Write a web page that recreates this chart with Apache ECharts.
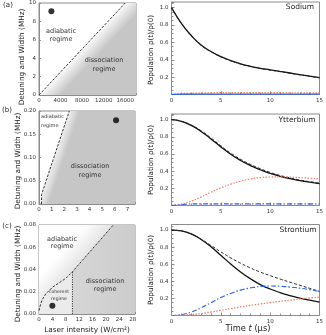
<!DOCTYPE html>
<html><head><meta charset="utf-8">
<script src="https://cdn.jsdelivr.net/npm/echarts@6/dist/echarts.min.js"></script>
<style>html,body{margin:0;padding:0;background:#fff}#c{width:326px;height:335px}</style>
</head><body><div id="c"></div>
<script>
// ---------- data ----------
const time = [0,1,2,3,4,5,6,7,8,9,10,11,12,13,14,15];

const sodiumSolid  = [1.0,0.82,0.68,0.57,0.495,0.437,0.391,0.354,0.325,0.302,0.284,0.2655,0.2475,0.2295,0.212,0.195];
const sodiumDashed = [1.0,0.818,0.677,0.567,0.492,0.434,0.388,0.351,0.322,0.299,0.281,0.263,0.245,0.227,0.21,0.193];
const sodiumRed    = [0.0,0.01,0.015,0.018,0.02,0.021,0.022,0.022,0.022,0.022,0.021,0.021,0.02,0.02,0.019,0.019];
const sodiumBlue   = [0.0,0.004,0.005,0.005,0.005,0.005,0.005,0.005,0.005,0.005,0.005,0.005,0.005,0.005,0.005,0.005];

const ytterSolid   = [1.0,0.98,0.932,0.862,0.775,0.682,0.596,0.524,0.465,0.416,0.374,0.34,0.312,0.29,0.271,0.255];
const ytterDashed  = [1.0,0.981,0.936,0.87,0.786,0.695,0.61,0.538,0.478,0.428,0.385,0.35,0.321,0.297,0.277,0.26];
const ytterRed     = [0.0,0.015,0.05,0.10,0.155,0.205,0.248,0.283,0.309,0.325,0.332,0.333,0.33,0.325,0.318,0.31];
const ytterBlue    = [0.0,0.01,0.018,0.018,0.018,0.018,0.018,0.018,0.018,0.018,0.018,0.018,0.018,0.018,0.018,0.018];

const stronSolid   = [1.0,0.99,0.955,0.89,0.805,0.705,0.603,0.51,0.43,0.362,0.31,0.268,0.233,0.204,0.179,0.157];
const stronDashed  = [1.0,0.99,0.955,0.893,0.82,0.745,0.675,0.612,0.556,0.508,0.466,0.427,0.39,0.354,0.318,0.282];
const stronBlue    = [0.0,0.01,0.04,0.09,0.15,0.21,0.258,0.297,0.323,0.34,0.345,0.342,0.333,0.32,0.302,0.28];
const stronRed     = [0.0,0.003,0.01,0.022,0.04,0.06,0.08,0.1,0.118,0.135,0.151,0.166,0.18,0.193,0.205,0.215];

// regime boundaries (data coordinates)
const boundaryA = [[0,0],[16000,10]];
const boundaryB = [[0.2,0],[0.2,0.02],[2.4,0.2]];
const boundaryC = [[0,0.003],[0.5,0.009],[1,0.013],[2,0.018],[3,0.021],[4,0.024],[5,0.026],[6,0.028],[7,0.030],[8,0.032],[9,0.035],[10,0.038],[22.2,0.08]];
const coherentEdgeC = [[10,0],[10,0.038]];
const pointA = [[2300,9.1]];
const pointB = [[6.1,0.18]];
const pointC = [[4,0.0075]];

const xTicksA = [0,4000,8000,12000,16000];
const yTicksA = [0,2,4,6,8,10];
const xTicksB = [0,1,2,3,4,5,6,7];
const yTicksB = [0,0.05,0.10,0.15,0.20];
const xTicksC = [0,4,8,12,16,20,24,28];
const yTicksC = [0,0.02,0.04,0.06,0.08];
const timeTicks = [0,5,10,15];
const popTicks = [0.2,0.4,0.6,0.8,1.0];

// ---------- helpers ----------
const FONT = 'DejaVu Sans';
const AX = '#8c8c8c';
const pair = (xs, ys) => xs.map((x,i)=>[x, ys[i]]);
const near = (v, arr) => arr.some(a => Math.abs(a - v) < 1e-6);

function leftAxes(gi, xmax, xint, ymax, yint, xt, yt, yDigits){
  return {
    x: {type:'value', gridIndex:gi, min:0, max:xmax, interval:xint,
      axisLine:{lineStyle:{color:AX}}, axisTick:{inside:true,length:2,lineStyle:{color:AX}},
      splitLine:{show:false},
      axisLabel:{fontFamily:FONT,fontSize:5.5,color:'#333',margin:3,showMaxLabel:true,
        formatter:v=> near(v,xt)? String(v):''}},
    y: {type:'value', gridIndex:gi, min:0, max:ymax, interval:yint,
      axisLine:{lineStyle:{color:AX}}, axisTick:{inside:true,length:2,lineStyle:{color:AX}},
      splitLine:{show:false},
      axisLabel:{fontFamily:FONT,fontSize:5.5,color:'#333',margin:3,
        formatter:v=> near(v,yt)? v.toFixed(yDigits):''}}
  };
}
function rightAxes(gi){
  return {
    x: {type:'value', gridIndex:gi, min:0, max:15, interval:5,
      axisLine:{lineStyle:{color:AX}}, axisTick:{inside:true,length:3,lineStyle:{color:AX}},
      minorTick:{show:true,splitNumber:5,length:2,lineStyle:{color:AX}},
      splitLine:{show:false},
      axisLabel:{fontFamily:FONT,fontSize:5.5,color:'#333',margin:3,
        formatter:v=> near(v,timeTicks)? String(v):''}},
    y: {type:'value', gridIndex:gi, min:0, max:1.065, interval:0.2,
      axisLine:{lineStyle:{color:AX}}, axisTick:{inside:true,length:3,lineStyle:{color:AX}},
      minorTick:{show:true,splitNumber:4,length:2,lineStyle:{color:AX}},
      splitLine:{show:false},
      axisLabel:{fontFamily:FONT,fontSize:5.5,color:'#333',margin:3,
        formatter:v=> near(v,popTicks)? v.toFixed(1):''}}
  };
}

function regionSeries(ai, polys){
  return {type:'custom', xAxisIndex:ai, yAxisIndex:ai, silent:true, z:1, clip:true, data:[0],
    renderItem:(params, api)=>({type:'group', children: polys.map(p=>{
      const pts = p.pts.map(d=>api.coord(d));
      let fill = p.color;
      if (p.grad){
        const a = api.coord(p.grad.edge[0]), b = api.coord(p.grad.edge[1]);
        const dx=b[0]-a[0], dy=b[1]-a[1], L=Math.hypot(dx,dy);
        let nx=-dy/L, ny=dx/L; if(p.grad.flip){nx=-nx;ny=-ny;}
        const m=[(a[0]+b[0])/2,(a[1]+b[1])/2];
        fill = new echarts.graphic.LinearGradient(m[0],m[1],m[0]+nx*p.grad.w,m[1]+ny*p.grad.w,p.grad.stops,true);
      }
      return {type:'polygon', shape:{points:pts}, style:{fill:fill, stroke:null, lineWidth:0}};
    })})
  };
}
function lineS(ai, data, color, type, width){
  return {type:'line', xAxisIndex:ai, yAxisIndex:ai, data:data, symbol:'none', z:3,
    smooth:0.5, silent:true,
    lineStyle:{color:color, type:type, width:width}};
}
function boundaryS(ai, data, type){
  return {type:'line', xAxisIndex:ai, yAxisIndex:ai, data:data, symbol:'none', z:3, silent:true,
    lineStyle:{color:'#333', type:type, width:1}};
}
function dotS(ai, data){
  return {type:'scatter', xAxisIndex:ai, yAxisIndex:ai, data:data, symbolSize:6, z:4, silent:true,
    itemStyle:{color:'#000'}};
}

// ---------- layout ----------
const grids = [
  {left:39, top:3,   width:97,    height:92},
  {left:171.5, top:2, width:151.5, height:92.5},
  {left:39, top:111, width:96,    height:93},
  {left:171.5, top:114, width:151.5, height:91.5},
  {left:39, top:225, width:96,    height:89},
  {left:171.5, top:224.5, width:151.5, height:91}
].map(g=>Object.assign({show:true, borderColor:AX, borderWidth:1, backgroundColor:'transparent'}, g));

const aL = leftAxes(0, 18000, 2000, 10, 2, xTicksA, yTicksA, 0);
const aR = rightAxes(1);
const bL = leftAxes(2, 7.6, 1, 0.2, 0.05, xTicksB, yTicksB, 2);
const bR = rightAxes(3);
const cL = leftAxes(4, 28.7, 4, 0.08, 0.02, xTicksC, yTicksC, 2);
const cR = rightAxes(5);

const GRAY = '#c6c6c6';
const series = [
  // (a) regions
  regionSeries(0, [
    {pts:[boundaryA[0], boundaryA[1], [18000,10], [18000,0]],
     grad:{edge:boundaryA, w:16, stops:[{offset:0,color:'#fafafa'},{offset:1,color:GRAY}]}}
  ]),
  boundaryS(0, boundaryA, [2.5,1.5]),
  dotS(0, pointA),
  // (a) populations
  lineS(1, pair(time, sodiumSolid), '#111', 'solid', 1.3),
  lineS(1, pair(time, sodiumDashed), '#222', [3,2], 1),
  lineS(1, pair(time, sodiumRed), '#f07a6a', [1.5,1.5], 1.2),
  lineS(1, pair(time, sodiumBlue), '#2f63e0', 'solid', 1.3),
  // (b) regions
  regionSeries(2, [
    {pts:[boundaryB[0], boundaryB[1], boundaryB[2], [7.6,0.2], [7.6,0]],
     grad:{edge:[boundaryB[1], boundaryB[2]], w:10, stops:[{offset:0,color:'#efefef'},{offset:0.5,color:'#dcdcdc'},{offset:1,color:GRAY}]}}
  ]),
  boundaryS(2, boundaryB, [2.5,1.5]),
  dotS(2, pointB),
  // (b) populations
  lineS(3, pair(time, ytterSolid), '#111', 'solid', 1.3),
  lineS(3, pair(time, ytterDashed), '#222', [3,2], 1),
  lineS(3, pair(time, ytterRed), '#f07a6a', [1.5,1.5], 1.2),
  lineS(3, pair(time, ytterBlue), '#2f63e0', [5,2,1.5,2], 1.2),
  // (c) regions
  regionSeries(4, [
    {pts:boundaryC.concat([[0,0.08]]),
     grad:{edge:[boundaryC[0], boundaryC[boundaryC.length-1]], w:22, flip:true, stops:[{offset:0,color:'#e4e4e4'},{offset:1,color:'#ffffff'}]}},
    {pts:boundaryC.slice(0,12).concat([[10,0],[0,0]]), color:'#ebebeb'},
    {pts:[coherentEdgeC[0], coherentEdgeC[1], boundaryC[boundaryC.length-1], [28.7,0.08], [28.7,0]],
     grad:{edge:[[10,0],[10,0.08]], w:86, stops:[{offset:0,color:'#d6d6d6'},{offset:0.8,color:'#cbcbcb'},{offset:1,color:'#bcbcbc'}]}}
  ]),
  boundaryS(4, boundaryC, [2.5,1.5]),
  boundaryS(4, coherentEdgeC, [1.2,1.2]),
  dotS(4, pointC),
  // (c) populations
  lineS(5, pair(time, stronSolid), '#111', 'solid', 1.3),
  lineS(5, pair(time, stronDashed), '#222', [3,2], 1),
  lineS(5, pair(time, stronBlue), '#2f63e0', [5,2,1.5,2], 1.2),
  lineS(5, pair(time, stronRed), '#f07a6a', [1.5,1.5], 1.2)
];

function txt(x, y, text, size, opts){
  return Object.assign({type:'text', x:x, y:y, z:10, silent:true,
    style:Object.assign({text:text, fontFamily:FONT, fontSize:size, fill:'#222', align:'center', verticalAlign:'middle'}, (opts&&opts.style)||{})},
    (opts&&opts.el)||{});
}
const ROT = {el:{rotation:Math.PI/2}};
const graphic = [
  txt(8,5,'(a)',7), txt(7,110,'(b)',7), txt(7,226,'(c)',7),
  txt(22,57,'Detuning and Width (MHz)',7.3,ROT),
  txt(18.5,161,'Detuning and Width (MHz)',7.3,ROT),
  txt(18.5,274,'Detuning and Width (MHz)',7.3,ROT),
  txt(151,50,'Population ρ(t)/ρ(0)',7.2,ROT),
  txt(151,160,'Population ρ(t)/ρ(0)',7.2,ROT),
  txt(151,270,'Population ρ(t)/ρ(0)',7.2,ROT),
  txt(300,7,'Sodium',7.5), txt(297,120,'Ytterbium',7.5), txt(298,230,'Strontium',7.5),
  txt(61,35.5,'adiabatic\nregime',6.5,{style:{lineHeight:8,fill:'#333'}}),
  txt(104,65,'dissociation\nregime',6.5,{style:{lineHeight:9.5,fill:'#333'}}),
  txt(41,121,'adiabatic\nregime',5,{style:{lineHeight:8.5,fill:'#333',align:'left'}}),
  txt(90,171,'dissociation\nregime',6.5,{style:{lineHeight:9,fill:'#333'}}),
  txt(62,242.5,'adiabatic\nregime',6.5,{style:{lineHeight:7,fill:'#333'}}),
  txt(105,285,'dissociation\nregime',6.5,{style:{lineHeight:8,fill:'#333'}}),
  txt(59,295,'coherent\nregime',4.5,{style:{lineHeight:7,fill:'#333'}}),
  txt(87,330,'Laser intensity (W/cm²)',7.3),
  {type:'text', x:248, y:329, z:10, silent:true, style:{
    text:'{a|Time }{b|t}{a| (µs)}', align:'center', verticalAlign:'middle',
    rich:{a:{fontFamily:FONT,fontSize:8.3,fill:'#222'}, b:{fontFamily:FONT,fontSize:8.3,fontStyle:'italic',fill:'#222'}}}}
];

const chart = echarts.init(document.getElementById('c'), null, {renderer:'canvas'});
chart.setOption({
  animation:false,
  backgroundColor:'#fff',
  grid: grids,
  xAxis:[aL.x, aR.x, bL.x, bR.x, cL.x, cR.x],
  yAxis:[aL.y, aR.y, bL.y, bR.y, cL.y, cR.y],
  series: series,
  graphic: graphic
});
</script></body></html>
